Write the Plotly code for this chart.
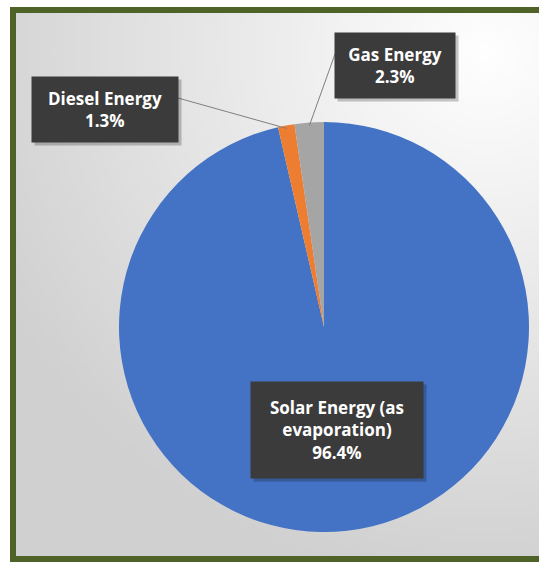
import base64, struct, zlib, math
import numpy as np
import plotly.graph_objects as go

# ---- data ----
labels = ["Solar Energy (as evaporation)", "Diesel Energy", "Gas Energy"]
label_lines = ["Solar Energy (as<br>evaporation)", "Diesel Energy", "Gas Energy"]
values = [96.4, 1.3, 2.3]
colors = ["#4472C4", "#ED7D31", "#A5A5A5"]

W, H = 539, 563

# ---- gradient background as PNG ----
def make_png(arr):
    h, w, _ = arr.shape
    raw = b"".join(b"\x00" + arr[i].tobytes() for i in range(h))
    def chunk(t, d):
        c = struct.pack(">I", len(d)) + t + d
        return c + struct.pack(">I", zlib.crc32(t + d) & 0xffffffff)
    png = b"\x89PNG\r\n\x1a\n" + chunk(b"IHDR", struct.pack(">IIBBBBB", w, h, 8, 2, 0, 0, 0))
    png += chunk(b"IDAT", zlib.compress(raw, 9)) + chunk(b"IEND", b"")
    return "data:image/png;base64," + base64.b64encode(png).decode()

gw, gh = 108, 113
yy, xx = np.mgrid[0:gh, 0:gw]
px = xx / gw * W
py = yy / gh * H
d = np.sqrt((px - 470) ** 2 + (py - 40) ** 2)
v = np.clip(255 - d * 0.085, 208, 255).astype(np.uint8)
img = np.stack([v, v, v], axis=-1)
bg_src = make_png(img)

# ---- geometry (pixels) ----
cx, cy, r = 324, 327, 205

fig = go.Figure()
fig.add_trace(go.Pie(
    labels=labels, values=values, sort=False, direction="clockwise", rotation=0,
    marker=dict(colors=colors, line=dict(width=0)),
    textinfo="none", showlegend=False,
    domain=dict(x=[(cx - r) / W, (cx + r) / W], y=[1 - (cy + r) / H, 1 - (cy - r) / H]),
))

def px2p(x, y):
    return x / W, 1 - y / H

# label boxes: (center x, center y, width, height, leader start)
boxes = {
    0: dict(cx=337, cy=430, w=172, h=96, lead=None),
    1: dict(cx=105, cy=109.5, w=146, h=65, lead=(178, 98)),
    2: dict(cx=395, cy=65.5, w=120, h=65, lead=(335, 54)),
}

total = sum(values)
cum = 0.0
annotations = []
shapes = []
for i, val in enumerate(values):
    mid = (cum + val / 2) / total * 2 * math.pi
    cum += val
    b = boxes[i]
    text = f"{label_lines[i]}<br>{val:.1f}%"
    if b["lead"] is not None:
        ex = cx + (r - 3) * math.sin(mid)
        ey = cy - (r - 3) * math.cos(mid)
        sx, sy = px2p(*b["lead"])
        exp, eyp = px2p(ex, ey)
        shapes.append(dict(type="line", xref="paper", yref="paper", x0=sx, y0=sy, x1=exp, y1=eyp,
                           line=dict(color="#7F7F7F", width=1)))
    # shadow
    sxp, syp = px2p(b["cx"] + 3, b["cy"] + 3)
    annotations.append(dict(x=sxp, y=syp, xref="paper", yref="paper", text="", showarrow=False,
                            width=b["w"], height=b["h"], bgcolor="rgba(0,0,0,0.22)", borderpad=0,
                            xanchor="center", yanchor="middle"))
    xp, yp = px2p(b["cx"], b["cy"])
    annotations.append(dict(x=xp, y=yp, xref="paper", yref="paper", text=text, showarrow=False,
                            width=b["w"], height=b["h"], bgcolor="#3B3B3B", borderpad=0,
                            font=dict(family="Open Sans", size=17, color="white", weight="bold"),
                            align="center", valign="middle", xanchor="center", yanchor="middle"))

# green frame
shapes.append(dict(type="rect", xref="paper", yref="paper",
                   x0=13 / W, x1=1.02, y0=1 - 559 / H, y1=1 - 10 / H,
                   line=dict(color="#4F6228", width=6), fillcolor="rgba(0,0,0,0)"))

fig.update_layout(
    width=W, height=H, margin=dict(l=0, r=0, t=0, b=0),
    paper_bgcolor="white", plot_bgcolor="white",
    images=[dict(source=bg_src, xref="paper", yref="paper", x=13 / W, y=1 - 10 / H,
                 sizex=1, sizey=549 / H, sizing="stretch", layer="below", xanchor="left", yanchor="top")],
    shapes=shapes, annotations=annotations,
)
fig.write_html("out.html", config={"displayModeBar": False},
               post_script="document.body.style.margin='0px';document.body.style.overflow='hidden';")
